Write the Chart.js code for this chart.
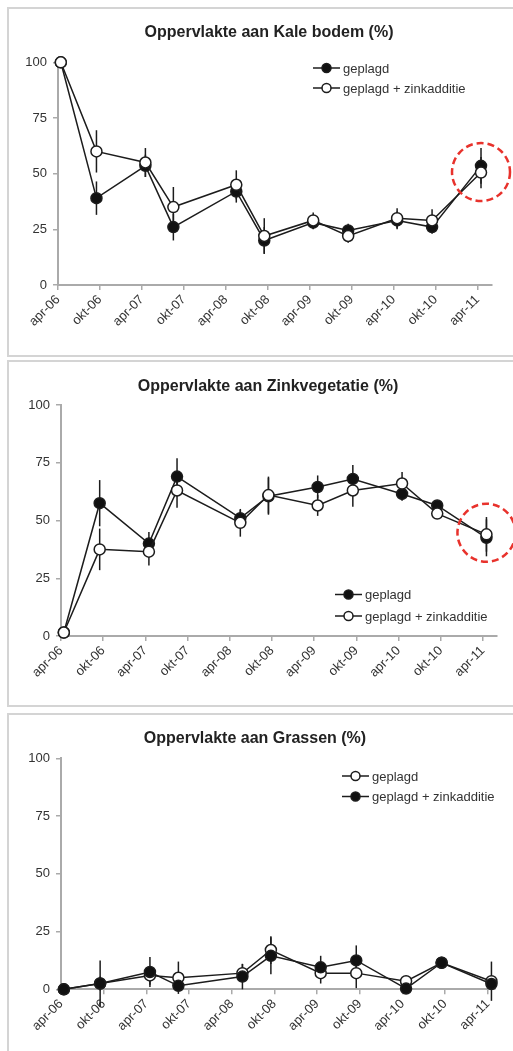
<!DOCTYPE html>
<html>
<head>
<meta charset="utf-8">
<script src="https://cdn.jsdelivr.net/npm/chart.js@4.4.0/dist/chart.umd.min.js"></script>
<style>
  html, body { margin: 0; padding: 0; background: #fff; overflow: hidden; }
  body { position: relative; width: 513px; height: 1051px; }
  .frame { position: absolute; left: 7px; width: 530px; border: 2px solid #d4d4d4; box-sizing: border-box; }
  canvas { position: absolute; left: 0; }
</style>
</head>
<body>
<div class="frame" style="top:7px;height:350px"></div>
<div class="frame" style="top:360px;height:347px"></div>
<div class="frame" style="top:713px;height:360px"></div>
<canvas id="kale" width="513" height="356" style="top:0"></canvas>
<canvas id="zink" width="513" height="354" style="top:356px"></canvas>
<canvas id="gras" width="513" height="341" style="top:710px"></canvas>
<script>
// sampling moments, in months after april 2006
const sampleMonths = [0.4, 5.5, 12.5, 16.5, 25.5, 29.5, 36.5, 41.5, 48.5, 53.5, 60.5];
const tickMonths = [0, 6, 12, 18, 24, 30, 36, 42, 48, 54, 60];
const tickLabels = ['apr-06', 'okt-06', 'apr-07', 'okt-07', 'apr-08', 'okt-08',
                    'apr-09', 'okt-09', 'apr-10', 'okt-10', 'apr-11'];
const yTicks = [0, 25, 50, 75, 100];

// Kale bodem (%)
const kaleGeplagd = [100, 39, 53.5, 26, 42, 20, 28, 24.5, 29, 26, 53.5];
const kaleGeplagdErr = [0, 7.5, 5, 6, 5, 6, 3, 3, 4, 3, 8];
const kaleZink = [100, 60, 55, 35, 45, 22, 29, 22, 30, 29, 50.5];
const kaleZinkErr = [0, 9.5, 6.5, 9, 6.5, 8, 3.5, 3, 4.5, 5, 7];

// Zinkvegetatie (%)
const zinkGeplagd = [1.5, 57.5, 40, 69, 51, 60.5, 64.5, 68, 61.5, 56.5, 42.5];
const zinkGeplagdErr = [0, 10, 5, 8, 3.5, 8, 5, 6, 3, 2, 8];
const zinkZink = [1.5, 37.5, 36.5, 63, 49, 61, 56.5, 63, 66, 53, 44];
const zinkZinkErr = [0, 9, 6, 7.5, 6, 8, 4.5, 7, 5, 2, 7.5];

// Grassen (%)
const grasGeplagd = [0, 2.5, 6, 5, 7, 17, 7, 7, 3.5, 11.5, 3.5];
const grasGeplagdErr = [0, 10, 4, 7, 4, 6, 4.5, 6.5, 1, 1, 8.5];
const grasZink = [0, 2.5, 7.5, 1.5, 5.5, 14.5, 9.5, 12.5, 0.3, 11.5, 2.3];
const grasZinkErr = [0, 3, 6.5, 2, 5.5, 8, 5, 6.5, 1, 1, 2];

const FONT = "'Liberation Sans', Arial, sans-serif";
const INK = '#1c1c1c';
const AXIS = '#aaaaaa';

const toPoints = values => values.map((v, i) => ({ x: sampleMonths[i], y: v }));

function series(label, values, errors, filled, order) {
    return {
        label: label,
        data: toPoints(values),
        errors: errors,
        filled: filled,
        order: order,
        borderColor: INK,
        borderWidth: 1.5,
        backgroundColor: filled ? '#111' : '#fff',
        pointBackgroundColor: filled ? '#111' : '#fff',
        pointBorderColor: INK,
        pointBorderWidth: 1.5,
        pointRadius: 5.5,
        tension: 0,
        clip: false
    };
}

// vertical error bars, title, inside legend and the red dashed ring
const panelDecor = {
    id: 'panelDecor',
    beforeDatasetsDraw(chart) {
        const ctx = chart.ctx;
        const ys = chart.scales.y;
        ctx.save();
        ctx.strokeStyle = INK;
        ctx.lineWidth = 1.5;
        chart.data.datasets.forEach((ds, di) => {
            const meta = chart.getDatasetMeta(di);
            meta.data.forEach((pt, i) => {
                const e = ds.errors[i];
                if (!e) return;
                const v = ds.data[i].y;
                ctx.beginPath();
                ctx.moveTo(pt.x, ys.getPixelForValue(v + e));
                ctx.lineTo(pt.x, ys.getPixelForValue(v - e));
                ctx.stroke();
            });
        });
        ctx.restore();
    },
    afterDraw(chart, args, opts) {
        const ctx = chart.ctx;
        ctx.save();
        ctx.fillStyle = '#222';
        ctx.font = 'bold 16px ' + FONT;
        ctx.textAlign = 'center';
        ctx.textBaseline = 'middle';
        ctx.fillText(opts.title, opts.titleX, opts.titleY);

        // legend
        ctx.font = '13px ' + FONT;
        ctx.textAlign = 'left';
        opts.legend.forEach((item, k) => {
            const y = opts.legendY + k * opts.legendGap;
            const x0 = opts.legendX, x1 = opts.legendX + 27;
            ctx.strokeStyle = INK;
            ctx.lineWidth = 1.5;
            ctx.beginPath();
            ctx.moveTo(x0, y);
            ctx.lineTo(x1, y);
            ctx.stroke();
            ctx.beginPath();
            ctx.arc((x0 + x1) / 2, y, 4.5, 0, Math.PI * 2);
            ctx.fillStyle = item.filled ? '#111' : '#fff';
            ctx.fill();
            ctx.stroke();
            ctx.fillStyle = '#333';
            ctx.fillText(item.label, x1 + 3, y + 1);
        });

        // red ring
        if (opts.ring) {
            const xs = chart.scales.x, ys = chart.scales.y;
            const cx = xs.getPixelForValue(sampleMonths[opts.ring.index]);
            const cy = ys.getPixelForValue(opts.ring.value);
            ctx.strokeStyle = '#e8322c';
            ctx.lineWidth = 2.5;
            ctx.setLineDash([7, 4]);
            ctx.beginPath();
            ctx.arc(cx, cy, opts.ring.r, 0, Math.PI * 2);
            ctx.stroke();
        }
        ctx.restore();
    }
};

function makeChart(id, datasets, frame, decor) {
    const canvas = document.getElementById(id);
    const W = canvas.width, H = canvas.height;
    const xAxisHeight = 62;
    return new Chart(canvas, {
        type: 'line',
        data: { datasets: datasets },
        plugins: [panelDecor],
        options: {
            responsive: false,
            animation: false,
            events: [],
            layout: {
                padding: {
                    left: 0,
                    top: frame.top,
                    right: W - frame.right,
                    bottom: H - frame.bottom - xAxisHeight
                }
            },
            plugins: {
                legend: { display: false },
                tooltip: { enabled: false },
                title: { display: false },
                panelDecor: decor
            },
            scales: {
                x: {
                    type: 'linear',
                    min: 0,
                    max: frame.xMax,
                    afterBuildTicks: s => { s.ticks = tickMonths.map(v => ({ value: v })); },
                    afterFit: s => { s.height = xAxisHeight; },
                    grid: { drawOnChartArea: false, tickLength: 5, color: AXIS, lineWidth: 1.5 },
                    border: { color: AXIS, width: 2 },
                    ticks: {
                        autoSkip: false,
                        minRotation: 45,
                        maxRotation: 45,
                        padding: 2,
                        color: '#333',
                        font: { size: 13, family: FONT },
                        callback: (v, i) => tickLabels[i]
                    }
                },
                y: {
                    min: 0,
                    max: 100,
                    afterBuildTicks: s => { s.ticks = yTicks.map(v => ({ value: v })); },
                    afterFit: s => { s.width = frame.left; },
                    grid: { drawOnChartArea: false, tickLength: 5, color: AXIS, lineWidth: 1.5 },
                    border: { color: AXIS, width: 2 },
                    ticks: { padding: 6, color: '#333', font: { size: 13, family: FONT } }
                }
            }
        }
    });
}

makeChart('kale', [
    series('geplagd + zinkadditie', kaleZink, kaleZinkErr, false, 0),
    series('geplagd', kaleGeplagd, kaleGeplagdErr, true, 1)
], { left: 58, right: 491.5, top: 62.3, bottom: 285, xMax: 62 }, {
    title: 'Oppervlakte aan Kale bodem (%)', titleX: 269, titleY: 33,
    legend: [{ label: 'geplagd', filled: true }, { label: 'geplagd + zinkadditie', filled: false }],
    legendX: 313, legendY: 68, legendGap: 20,
    ring: { index: 10, value: 50.7, r: 29 }
});

makeChart('zink', [
    series('geplagd + zinkadditie', zinkZink, zinkZinkErr, false, 0),
    series('geplagd', zinkGeplagd, zinkGeplagdErr, true, 1)
], { left: 61, right: 497, top: 49, bottom: 280, xMax: 62 }, {
    title: 'Oppervlakte aan Zinkvegetatie (%)', titleX: 268, titleY: 31,
    legend: [{ label: 'geplagd', filled: true }, { label: 'geplagd + zinkadditie', filled: false }],
    legendX: 335, legendY: 238.5, legendGap: 21.5,
    ring: { index: 10, value: 44.7, r: 29 }
});

makeChart('gras', [
    series('geplagd + zinkadditie', grasZink, grasZinkErr, true, 0),
    series('geplagd', grasGeplagd, grasGeplagdErr, false, 1)
], { left: 61, right: 495, top: 48.3, bottom: 279.3, xMax: 61 }, {
    title: 'Oppervlakte aan Grassen (%)', titleX: 255, titleY: 28.5,
    legend: [{ label: 'geplagd', filled: false }, { label: 'geplagd + zinkadditie', filled: true }],
    legendX: 342, legendY: 66, legendGap: 20.5
});
</script>
</body>
</html>
